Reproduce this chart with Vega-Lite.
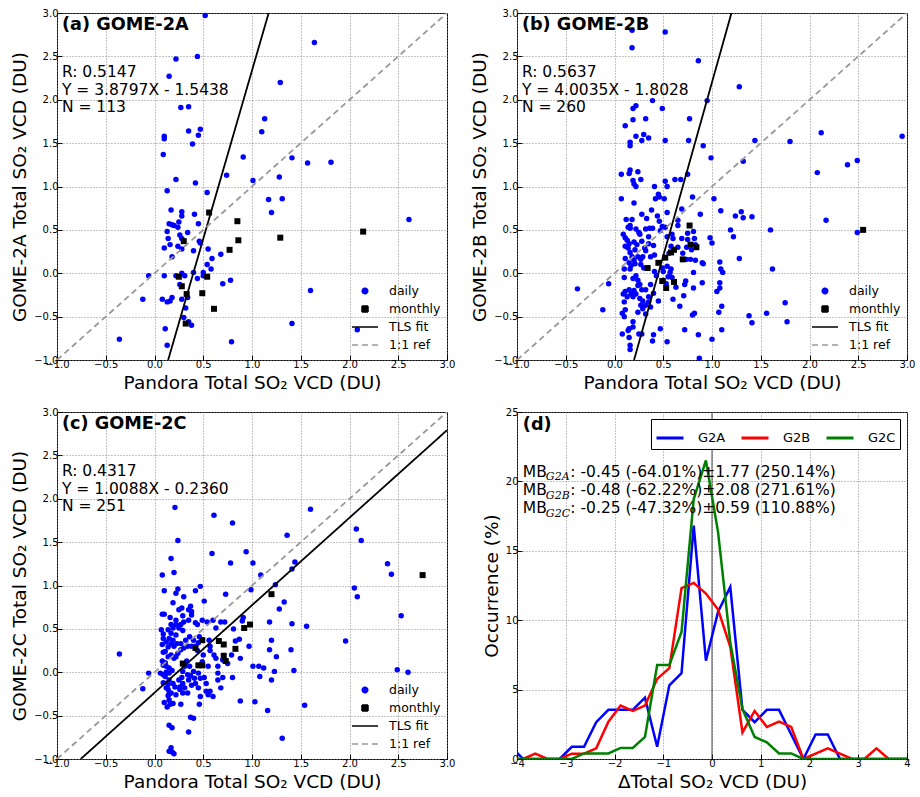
{
"$schema": "https://vega.github.io/schema/vega-lite/v6.json",
"padding": {"left": 10, "top": 7, "right": 5, "bottom": 5},
"config": {
 "font": "DejaVu Sans",
 "view": {"stroke": "black", "strokeWidth": 1},
 "axis": {"labelFont": "DejaVu Sans", "labelFontSize": 10, "labelColor": "black", "titleFont": "DejaVu Sans", "titleFontSize": 18.5, "titleFontWeight": "normal", "titleColor": "black", "domain": false, "grid": true, "gridColor": "#888888", "gridDash": [1, 2], "gridWidth": 1, "tickColor": "black", "tickSize": -5, "labelPadding": 4, "titlePadding": 4, "labelFlush": false, "labelOverlap": false},
 "legend": {"labelFont": "DejaVu Sans", "labelColor": "black"}
},
"datasets": {
 "a": [
{"kind":"daily","x":0.52,"y":2.97},{"kind":"daily","x":1.64,"y":2.66},{"kind":"daily","x":0.22,"y":2.47},{"kind":"daily","x":0.44,"y":2.50},{"kind":"daily","x":0.15,"y":2.27},{"kind":"daily","x":1.29,"y":2.20},{"kind":"daily","x":0.27,"y":1.91},{"kind":"daily","x":0.35,"y":1.92},{"kind":"daily","x":1.13,"y":1.78},{"kind":"daily","x":0.47,"y":1.66},{"kind":"daily","x":0.35,"y":1.64},{"kind":"daily","x":0.45,"y":1.59},{"kind":"daily","x":0.10,"y":1.58},{"kind":"daily","x":0.10,"y":1.55},{"kind":"daily","x":1.10,"y":1.63},{"kind":"daily","x":0.39,"y":1.49},{"kind":"daily","x":0.09,"y":1.37},{"kind":"daily","x":0.91,"y":1.34},{"kind":"daily","x":1.41,"y":1.33},{"kind":"daily","x":1.57,"y":1.27},{"kind":"daily","x":1.81,"y":1.28},{"kind":"daily","x":0.22,"y":1.08},{"kind":"daily","x":0.74,"y":1.13},{"kind":"daily","x":1.01,"y":1.07},{"kind":"daily","x":1.28,"y":1.11},{"kind":"daily","x":0.42,"y":1.04},{"kind":"daily","x":0.13,"y":0.95},{"kind":"daily","x":0.54,"y":0.93},{"kind":"daily","x":1.17,"y":0.85},{"kind":"daily","x":1.31,"y":0.86},{"kind":"daily","x":1.20,"y":0.70},{"kind":"daily","x":2.61,"y":0.62},{"kind":"daily","x":0.17,"y":0.73},{"kind":"daily","x":0.28,"y":0.71},{"kind":"daily","x":0.28,"y":0.66},{"kind":"daily","x":0.41,"y":0.68},{"kind":"daily","x":0.15,"y":0.57},{"kind":"daily","x":0.18,"y":0.56},{"kind":"daily","x":0.20,"y":0.55},{"kind":"daily","x":0.25,"y":0.59},{"kind":"daily","x":0.24,"y":0.53},{"kind":"daily","x":0.45,"y":0.57},{"kind":"daily","x":0.13,"y":0.48},{"kind":"daily","x":0.34,"y":0.47},{"kind":"daily","x":0.26,"y":0.44},{"kind":"daily","x":0.28,"y":0.40},{"kind":"daily","x":0.14,"y":0.40},{"kind":"daily","x":0.16,"y":0.33},{"kind":"daily","x":0.24,"y":0.31},{"kind":"daily","x":0.28,"y":0.28},{"kind":"daily","x":0.10,"y":0.29},{"kind":"daily","x":0.46,"y":0.37},{"kind":"daily","x":0.47,"y":0.35},{"kind":"daily","x":0.40,"y":0.26},{"kind":"daily","x":0.55,"y":0.28},{"kind":"daily","x":0.68,"y":0.22},{"kind":"daily","x":0.59,"y":0.17},{"kind":"daily","x":0.18,"y":0.19},{"kind":"daily","x":0.54,"y":0.10},{"kind":"daily","x":0.58,"y":0.05},{"kind":"daily","x":-0.06,"y":-0.03},{"kind":"daily","x":0.10,"y":-0.03},{"kind":"daily","x":0.22,"y":-0.03},{"kind":"daily","x":0.28,"y":0.00},{"kind":"daily","x":0.31,"y":-0.03},{"kind":"daily","x":0.40,"y":0.01},{"kind":"daily","x":0.50,"y":0.01},{"kind":"daily","x":0.50,"y":-0.03},{"kind":"daily","x":0.44,"y":-0.06},{"kind":"daily","x":0.26,"y":-0.13},{"kind":"daily","x":0.70,"y":-0.12},{"kind":"daily","x":0.78,"y":-0.08},{"kind":"daily","x":-0.12,"y":-0.30},{"kind":"daily","x":0.08,"y":-0.30},{"kind":"daily","x":0.13,"y":-0.33},{"kind":"daily","x":0.16,"y":-0.32},{"kind":"daily","x":0.18,"y":-0.28},{"kind":"daily","x":0.28,"y":-0.30},{"kind":"daily","x":0.34,"y":-0.28},{"kind":"daily","x":0.32,"y":-0.40},{"kind":"daily","x":0.30,"y":-0.51},{"kind":"daily","x":0.35,"y":-0.56},{"kind":"daily","x":0.38,"y":-0.60},{"kind":"daily","x":0.11,"y":-0.64},{"kind":"daily","x":0.13,"y":-0.83},{"kind":"daily","x":-0.36,"y":-0.76},{"kind":"daily","x":0.79,"y":-0.79},{"kind":"daily","x":1.41,"y":-0.58},{"kind":"daily","x":1.60,"y":-0.20},{"kind":"daily","x":2.08,"y":-0.65},
{"kind":"monthly","x":0.56,"y":0.70},{"kind":"monthly","x":0.85,"y":0.60},{"kind":"monthly","x":0.86,"y":0.38},{"kind":"monthly","x":1.29,"y":0.41},{"kind":"monthly","x":2.14,"y":0.48},{"kind":"monthly","x":0.30,"y":0.37},{"kind":"monthly","x":0.77,"y":0.27},{"kind":"monthly","x":0.25,"y":-0.04},{"kind":"monthly","x":0.54,"y":-0.04},{"kind":"monthly","x":0.28,"y":-0.15},{"kind":"monthly","x":0.33,"y":-0.24},{"kind":"monthly","x":0.49,"y":-0.23},{"kind":"monthly","x":0.61,"y":-0.41},{"kind":"monthly","x":0.32,"y":-0.58},
{"kind":"TLS fit","x":0.140,"y":-1},{"kind":"TLS fit","x":1.171,"y":3},
{"kind":"1:1 ref","x":-1,"y":-1},{"kind":"1:1 ref","x":3,"y":3}
 ],
 "b": [
{"kind":"daily","x":0.99,"y":1.33},{"kind":"daily","x":1.32,"y":1.29},{"kind":"daily","x":0.07,"y":1.14},{"kind":"daily","x":0.16,"y":1.19},{"kind":"daily","x":0.15,"y":1.15},{"kind":"daily","x":0.24,"y":1.17},{"kind":"daily","x":0.19,"y":1.07},{"kind":"daily","x":0.22,"y":1.00},{"kind":"daily","x":0.20,"y":1.03},{"kind":"daily","x":0.27,"y":1.08},{"kind":"daily","x":0.62,"y":1.08},{"kind":"daily","x":0.68,"y":1.08},{"kind":"daily","x":0.52,"y":1.06},{"kind":"daily","x":0.54,"y":1.00},{"kind":"daily","x":0.41,"y":1.00},{"kind":"daily","x":0.75,"y":1.14},{"kind":"daily","x":0.45,"y":0.91},{"kind":"daily","x":0.42,"y":0.86},{"kind":"daily","x":0.46,"y":0.88},{"kind":"daily","x":0.51,"y":0.86},{"kind":"daily","x":0.07,"y":0.86},{"kind":"daily","x":0.20,"y":0.81},{"kind":"daily","x":0.80,"y":0.88},{"kind":"daily","x":1.02,"y":0.86},{"kind":"daily","x":0.69,"y":0.74},{"kind":"daily","x":1.09,"y":0.72},{"kind":"daily","x":1.30,"y":0.71},{"kind":"daily","x":1.32,"y":0.64},{"kind":"daily","x":1.24,"y":0.66},{"kind":"daily","x":1.19,"y":0.50},{"kind":"daily","x":1.22,"y":0.42},{"kind":"daily","x":1.28,"y":0.17},{"kind":"daily","x":0.88,"y":0.68},{"kind":"daily","x":0.38,"y":0.73},{"kind":"daily","x":0.28,"y":0.68},{"kind":"daily","x":0.33,"y":0.63},{"kind":"daily","x":0.12,"y":0.62},{"kind":"daily","x":0.18,"y":0.62},{"kind":"daily","x":0.16,"y":0.55},{"kind":"daily","x":0.14,"y":0.53},{"kind":"daily","x":0.16,"y":0.52},{"kind":"daily","x":0.25,"y":0.47},{"kind":"daily","x":0.26,"y":0.45},{"kind":"daily","x":0.46,"y":0.60},{"kind":"daily","x":0.54,"y":0.70},{"kind":"daily","x":0.65,"y":0.61},{"kind":"daily","x":0.65,"y":0.55},{"kind":"daily","x":0.49,"y":0.54},{"kind":"daily","x":0.52,"y":0.53},{"kind":"daily","x":0.47,"y":0.49},{"kind":"daily","x":0.39,"y":0.52},{"kind":"daily","x":0.09,"y":0.45},{"kind":"daily","x":0.11,"y":0.41},{"kind":"daily","x":0.13,"y":0.38},{"kind":"daily","x":0.15,"y":0.34},{"kind":"daily","x":0.20,"y":0.36},{"kind":"daily","x":0.23,"y":0.33},{"kind":"daily","x":0.28,"y":0.37},{"kind":"daily","x":0.35,"y":0.42},{"kind":"daily","x":0.35,"y":0.34},{"kind":"daily","x":0.40,"y":0.32},{"kind":"daily","x":0.32,"y":0.26},{"kind":"daily","x":0.31,"y":0.29},{"kind":"daily","x":0.29,"y":0.19},{"kind":"daily","x":0.24,"y":0.19},{"kind":"daily","x":0.18,"y":0.19},{"kind":"daily","x":0.20,"y":0.15},{"kind":"daily","x":0.27,"y":0.16},{"kind":"daily","x":0.15,"y":0.12},{"kind":"daily","x":0.11,"y":0.17},{"kind":"daily","x":0.10,"y":0.05},{"kind":"daily","x":0.16,"y":0.05},{"kind":"daily","x":0.21,"y":0.11},{"kind":"daily","x":0.37,"y":0.19},{"kind":"daily","x":0.41,"y":0.21},{"kind":"daily","x":0.60,"y":0.40},{"kind":"daily","x":0.58,"y":0.31},{"kind":"daily","x":0.56,"y":0.23},{"kind":"daily","x":0.65,"y":0.30},{"kind":"daily","x":0.74,"y":0.30},{"kind":"daily","x":0.79,"y":0.27},{"kind":"daily","x":0.81,"y":0.48},{"kind":"daily","x":0.82,"y":0.40},{"kind":"daily","x":0.83,"y":0.33},{"kind":"daily","x":0.74,"y":0.16},{"kind":"daily","x":0.78,"y":0.16},{"kind":"daily","x":0.83,"y":0.15},{"kind":"daily","x":0.90,"y":0.12},{"kind":"daily","x":0.70,"y":0.23},{"kind":"daily","x":0.54,"y":0.08},{"kind":"daily","x":0.58,"y":0.05},{"kind":"daily","x":0.57,"y":0.01},{"kind":"daily","x":0.59,"y":-0.05},{"kind":"daily","x":0.50,"y":0.02},{"kind":"daily","x":0.50,"y":-0.08},{"kind":"daily","x":0.43,"y":-0.03},{"kind":"daily","x":0.41,"y":0.02},{"kind":"daily","x":0.22,"y":-0.03},{"kind":"daily","x":0.24,"y":-0.08},{"kind":"daily","x":0.26,"y":-0.13},{"kind":"daily","x":0.24,"y":-0.14},{"kind":"daily","x":0.37,"y":-0.13},{"kind":"daily","x":0.32,"y":-0.19},{"kind":"daily","x":0.28,"y":-0.19},{"kind":"daily","x":0.20,"y":-0.20},{"kind":"daily","x":0.15,"y":-0.19},{"kind":"daily","x":0.11,"y":-0.21},{"kind":"daily","x":0.09,"y":-0.24},{"kind":"daily","x":0.19,"y":-0.27},{"kind":"daily","x":0.17,"y":-0.24},{"kind":"daily","x":0.22,"y":-0.24},{"kind":"daily","x":0.26,"y":-0.29},{"kind":"daily","x":0.29,"y":-0.32},{"kind":"daily","x":0.35,"y":-0.27},{"kind":"daily","x":0.40,"y":-0.23},{"kind":"daily","x":0.45,"y":-0.32},{"kind":"daily","x":0.55,"y":-0.04},{"kind":"daily","x":0.73,"y":-0.09},{"kind":"daily","x":0.72,"y":-0.13},{"kind":"daily","x":0.90,"y":-0.11},{"kind":"daily","x":0.81,"y":-0.17},{"kind":"daily","x":0.67,"y":-0.38},{"kind":"daily","x":0.71,"y":-0.26},{"kind":"daily","x":1.05,"y":-0.21},{"kind":"daily","x":1.10,"y":-0.38},{"kind":"daily","x":1.07,"y":-0.45},{"kind":"daily","x":1.10,"y":-0.65},{"kind":"daily","x":1.00,"y":-0.76},{"kind":"daily","x":0.80,"y":-0.48},{"kind":"daily","x":0.82,"y":-0.46},{"kind":"daily","x":0.86,"y":-0.71},{"kind":"daily","x":0.87,"y":-0.98},{"kind":"daily","x":0.72,"y":-0.65},{"kind":"daily","x":0.54,"y":-0.79},{"kind":"daily","x":0.47,"y":-0.64},{"kind":"daily","x":0.40,"y":-0.71},{"kind":"daily","x":0.39,"y":-0.78},{"kind":"daily","x":0.28,"y":-0.70},{"kind":"daily","x":0.25,"y":-0.70},{"kind":"daily","x":0.19,"y":-0.62},{"kind":"daily","x":0.19,"y":-0.56},{"kind":"daily","x":0.15,"y":-0.64},{"kind":"daily","x":0.15,"y":-0.74},{"kind":"daily","x":0.08,"y":-0.70},{"kind":"daily","x":0.16,"y":-0.83},{"kind":"daily","x":0.16,"y":-0.88},{"kind":"daily","x":0.14,"y":-0.66},{"kind":"daily","x":0.08,"y":-0.46},{"kind":"daily","x":0.10,"y":-0.50},{"kind":"daily","x":0.11,"y":-0.42},{"kind":"daily","x":0.24,"y":-0.45},{"kind":"daily","x":0.29,"y":-0.41},{"kind":"daily","x":0.32,"y":-0.37},{"kind":"daily","x":0.35,"y":-0.33},{"kind":"daily","x":0.37,"y":-0.39},{"kind":"daily","x":0.27,"y":-0.37},{"kind":"daily","x":0.32,"y":-0.47},{"kind":"daily","x":0.13,"y":-0.27},{"kind":"daily","x":0.10,"y":-0.33},{"kind":"daily","x":-0.06,"y":-0.12},{"kind":"daily","x":-0.12,"y":-0.42},{"kind":"daily","x":0.19,"y":-0.06},{"kind":"daily","x":0.17,"y":0.09},{"kind":"daily","x":0.10,"y":-0.05},{"kind":"daily","x":0.21,"y":0.27},{"kind":"daily","x":0.27,"y":0.10},{"kind":"daily","x":0.30,"y":0.06},{"kind":"daily","x":0.16,"y":0.24},{"kind":"daily","x":0.14,"y":0.29},{"kind":"daily","x":0.11,"y":0.31},{"kind":"daily","x":0.22,"y":0.51},{"kind":"daily","x":0.32,"y":0.51},{"kind":"daily","x":0.36,"y":0.52},{"kind":"daily","x":0.44,"y":0.66},{"kind":"daily","x":0.59,"y":0.45},{"kind":"daily","x":0.54,"y":0.42},{"kind":"daily","x":0.69,"y":0.40},{"kind":"daily","x":0.75,"y":0.46},{"kind":"daily","x":0.75,"y":0.39},{"kind":"daily","x":0.49,"y":0.06},{"kind":"daily","x":0.53,"y":-0.12},{"kind":"daily","x":0.63,"y":-0.16},{"kind":"daily","x":0.60,"y":-0.30},{"kind":"daily","x":0.81,"y":0.01},{"kind":"daily","x":1.08,"y":-0.11},{"kind":"daily","x":1.08,"y":-0.17},{"kind":"daily","x":0.98,"y":0.41},{"kind":"daily","x":1.00,"y":0.35},{"kind":"daily","x":1.11,"y":0.01},{"kind":"daily","x":1.09,"y":0.05},{"kind":"daily","x":1.08,"y":0.13},{"kind":"daily","x":0.91,"y":0.11},
{"kind":"daily","x":0.18,"y":2.80},{"kind":"daily","x":0.52,"y":2.78},{"kind":"daily","x":0.18,"y":2.60},{"kind":"daily","x":0.86,"y":2.45},{"kind":"daily","x":1.28,"y":2.15},{"kind":"daily","x":0.95,"y":1.99},{"kind":"daily","x":0.39,"y":1.99},{"kind":"daily","x":0.19,"y":1.90},{"kind":"daily","x":0.22,"y":1.93},{"kind":"daily","x":0.49,"y":1.90},{"kind":"daily","x":0.32,"y":1.78},{"kind":"daily","x":0.19,"y":1.77},{"kind":"daily","x":0.77,"y":1.78},{"kind":"daily","x":0.11,"y":1.70},{"kind":"daily","x":0.22,"y":1.58},{"kind":"daily","x":0.30,"y":1.60},{"kind":"daily","x":0.35,"y":1.56},{"kind":"daily","x":0.28,"y":1.53},{"kind":"daily","x":0.52,"y":1.53},{"kind":"daily","x":0.76,"y":1.53},{"kind":"daily","x":0.16,"y":1.51},{"kind":"daily","x":0.16,"y":1.47},{"kind":"daily","x":0.91,"y":1.47},{"kind":"daily","x":1.44,"y":1.53},{"kind":"daily","x":1.80,"y":1.52},{"kind":"daily","x":2.12,"y":1.62},{"kind":"daily","x":2.95,"y":1.58},{"kind":"daily","x":2.39,"y":1.25},{"kind":"daily","x":2.49,"y":1.30},{"kind":"daily","x":2.08,"y":1.16},{"kind":"daily","x":2.17,"y":0.61},{"kind":"daily","x":1.60,"y":0.50},{"kind":"daily","x":2.49,"y":0.47},{"kind":"daily","x":1.62,"y":0.05},{"kind":"daily","x":1.75,"y":-0.34},{"kind":"daily","x":1.77,"y":-0.56},{"kind":"daily","x":1.56,"y":-0.46},{"kind":"daily","x":1.38,"y":-0.49},{"kind":"daily","x":1.41,"y":-0.57},{"kind":"daily","x":-0.38,"y":-0.18},{"kind":"daily","x":1.41,"y":0.65},
{"kind":"monthly","x":0.77,"y":0.55},{"kind":"monthly","x":0.78,"y":0.33},{"kind":"monthly","x":0.84,"y":0.30},{"kind":"monthly","x":0.61,"y":0.27},{"kind":"monthly","x":0.58,"y":0.24},{"kind":"monthly","x":0.52,"y":0.18},{"kind":"monthly","x":0.45,"y":0.12},{"kind":"monthly","x":0.70,"y":0.16},{"kind":"monthly","x":0.34,"y":0.06},{"kind":"monthly","x":0.49,"y":-0.09},{"kind":"monthly","x":0.53,"y":-0.17},{"kind":"monthly","x":0.61,"y":-0.10},{"kind":"monthly","x":2.55,"y":0.50},
{"kind":"TLS fit","x":0.2005,"y":-1},{"kind":"TLS fit","x":1.1996,"y":3},
{"kind":"1:1 ref","x":-1,"y":-1},{"kind":"1:1 ref","x":3,"y":3}
 ],
 "c": [
{"kind":"daily","x":0.21,"y":1.90},{"kind":"daily","x":0.61,"y":1.81},{"kind":"daily","x":0.80,"y":1.72},{"kind":"daily","x":1.60,"y":1.88},{"kind":"daily","x":1.36,"y":1.58},{"kind":"daily","x":0.24,"y":1.52},{"kind":"daily","x":0.94,"y":1.39},{"kind":"daily","x":0.59,"y":1.37},{"kind":"daily","x":0.17,"y":1.31},{"kind":"daily","x":0.78,"y":1.26},{"kind":"daily","x":1.01,"y":1.26},{"kind":"daily","x":1.44,"y":1.27},{"kind":"daily","x":1.41,"y":1.19},{"kind":"daily","x":2.07,"y":1.65},{"kind":"daily","x":2.12,"y":1.52},{"kind":"daily","x":2.39,"y":1.25},{"kind":"daily","x":2.43,"y":1.13},{"kind":"daily","x":0.08,"y":1.12},{"kind":"daily","x":1.09,"y":1.12},{"kind":"daily","x":0.20,"y":1.15},{"kind":"daily","x":1.33,"y":0.81},{"kind":"daily","x":1.24,"y":1.01},{"kind":"daily","x":1.28,"y":0.73},{"kind":"daily","x":2.05,"y":0.97},{"kind":"daily","x":2.08,"y":0.87},{"kind":"daily","x":2.53,"y":0.65},{"kind":"daily","x":1.41,"y":0.56},{"kind":"daily","x":1.56,"y":0.53},{"kind":"daily","x":1.96,"y":0.36},{"kind":"daily","x":2.49,"y":0.03},{"kind":"daily","x":2.60,"y":0.00},{"kind":"daily","x":1.43,"y":0.02},{"kind":"daily","x":1.40,"y":0.26},{"kind":"daily","x":1.54,"y":-0.38},{"kind":"daily","x":1.31,"y":-0.76},{"kind":"daily","x":1.16,"y":-0.44},{"kind":"daily","x":-0.36,"y":0.21},{"kind":"daily","x":-0.12,"y":-0.19},{"kind":"daily","x":-0.06,"y":-0.01},{"kind":"daily","x":1.03,"y":-0.34},{"kind":"daily","x":0.88,"y":-0.33},{"kind":"daily","x":0.35,"y":-0.69},{"kind":"daily","x":0.18,"y":-0.92},{"kind":"daily","x":0.15,"y":-0.91},{"kind":"daily","x":0.17,"y":-0.87},{"kind":"daily","x":0.20,"y":-0.94},{"kind":"daily","x":0.15,"y":-0.61},{"kind":"daily","x":0.18,"y":-0.64},{"kind":"daily","x":0.37,"y":-0.52},{"kind":"daily","x":0.40,"y":-0.53},
{"kind":"daily","x":0.10,"y":0.94},{"kind":"daily","x":0.22,"y":0.91},{"kind":"daily","x":0.24,"y":0.96},{"kind":"daily","x":0.19,"y":0.80},{"kind":"daily","x":0.30,"y":0.87},{"kind":"daily","x":0.42,"y":0.94},{"kind":"daily","x":0.47,"y":0.99},{"kind":"daily","x":0.51,"y":0.82},{"kind":"daily","x":0.73,"y":0.90},{"kind":"daily","x":0.99,"y":0.95},{"kind":"daily","x":0.10,"y":0.67},{"kind":"daily","x":0.08,"y":0.67},{"kind":"daily","x":0.16,"y":0.63},{"kind":"daily","x":0.25,"y":0.72},{"kind":"daily","x":0.28,"y":0.74},{"kind":"daily","x":0.35,"y":0.72},{"kind":"daily","x":0.37,"y":0.76},{"kind":"daily","x":0.38,"y":0.70},{"kind":"daily","x":0.38,"y":0.66},{"kind":"daily","x":0.30,"y":0.58},{"kind":"daily","x":0.42,"y":0.57},{"kind":"daily","x":0.44,"y":0.55},{"kind":"daily","x":0.49,"y":0.60},{"kind":"daily","x":0.54,"y":0.58},{"kind":"daily","x":0.60,"y":0.60},{"kind":"daily","x":0.63,"y":0.51},{"kind":"daily","x":0.68,"y":0.58},{"kind":"daily","x":0.72,"y":0.58},{"kind":"daily","x":0.81,"y":0.50},{"kind":"daily","x":0.83,"y":0.36},{"kind":"daily","x":0.88,"y":0.16},{"kind":"daily","x":0.91,"y":0.63},{"kind":"daily","x":0.90,"y":0.59},{"kind":"daily","x":0.97,"y":0.30},{"kind":"daily","x":0.87,"y":0.38},{"kind":"daily","x":1.01,"y":0.07},{"kind":"daily","x":1.07,"y":0.07},{"kind":"daily","x":1.12,"y":0.05},{"kind":"daily","x":1.18,"y":0.58},{"kind":"daily","x":1.20,"y":0.37},{"kind":"daily","x":1.18,"y":0.26},{"kind":"daily","x":1.25,"y":0.18},{"kind":"daily","x":1.23,"y":0.01},{"kind":"daily","x":1.08,"y":-0.05},{"kind":"daily","x":1.20,"y":-0.09},{"kind":"daily","x":0.80,"y":-0.06},{"kind":"daily","x":0.70,"y":-0.06},{"kind":"daily","x":0.68,"y":-0.18},{"kind":"daily","x":0.65,"y":-0.09},{"kind":"daily","x":0.65,"y":-0.01},{"kind":"daily","x":0.65,"y":0.07},{"kind":"daily","x":0.70,"y":0.14},{"kind":"daily","x":0.75,"y":0.10},{"kind":"daily","x":0.79,"y":0.20},{"kind":"daily","x":0.63,"y":0.16},{"kind":"daily","x":0.61,"y":0.20},{"kind":"daily","x":0.57,"y":0.25},{"kind":"daily","x":0.57,"y":0.30},{"kind":"daily","x":0.56,"y":0.37},{"kind":"daily","x":0.50,"y":0.20},{"kind":"daily","x":0.49,"y":0.12},{"kind":"daily","x":0.55,"y":0.07},{"kind":"daily","x":0.51,"y":-0.06},{"kind":"daily","x":0.53,"y":-0.13},{"kind":"daily","x":0.53,"y":-0.22},{"kind":"daily","x":0.55,"y":-0.26},{"kind":"daily","x":0.60,"y":-0.28},{"kind":"daily","x":0.47,"y":-0.28},{"kind":"daily","x":0.57,"y":-0.22},{"kind":"daily","x":0.47,"y":-0.07},{"kind":"daily","x":0.45,"y":-0.01},{"kind":"daily","x":0.40,"y":0.01},{"kind":"daily","x":0.36,"y":0.07},{"kind":"daily","x":0.33,"y":0.13},{"kind":"daily","x":0.31,"y":0.07},{"kind":"daily","x":0.29,"y":0.01},{"kind":"daily","x":0.34,"y":-0.03},{"kind":"daily","x":0.35,"y":-0.09},{"kind":"daily","x":0.38,"y":-0.15},{"kind":"daily","x":0.42,"y":-0.13},{"kind":"daily","x":0.41,"y":-0.07},{"kind":"daily","x":0.28,"y":-0.06},{"kind":"daily","x":0.25,"y":-0.09},{"kind":"daily","x":0.29,"y":-0.13},{"kind":"daily","x":0.26,"y":-0.17},{"kind":"daily","x":0.21,"y":-0.17},{"kind":"daily","x":0.19,"y":-0.13},{"kind":"daily","x":0.15,"y":-0.09},{"kind":"daily","x":0.14,"y":-0.14},{"kind":"daily","x":0.14,"y":-0.20},{"kind":"daily","x":0.15,"y":-0.25},{"kind":"daily","x":0.14,"y":-0.27},{"kind":"daily","x":0.12,"y":-0.18},{"kind":"daily","x":0.09,"y":-0.12},{"kind":"daily","x":0.11,"y":-0.05},{"kind":"daily","x":0.12,"y":0.00},{"kind":"daily","x":0.15,"y":-0.01},{"kind":"daily","x":0.18,"y":0.02},{"kind":"daily","x":0.15,"y":0.05},{"kind":"daily","x":0.12,"y":0.07},{"kind":"daily","x":0.09,"y":0.08},{"kind":"daily","x":0.08,"y":0.13},{"kind":"daily","x":0.11,"y":0.11},{"kind":"daily","x":0.14,"y":0.18},{"kind":"daily","x":0.17,"y":0.20},{"kind":"daily","x":0.20,"y":0.16},{"kind":"daily","x":0.22,"y":0.18},{"kind":"daily","x":0.24,"y":0.22},{"kind":"daily","x":0.27,"y":0.26},{"kind":"daily","x":0.30,"y":0.28},{"kind":"daily","x":0.34,"y":0.30},{"kind":"daily","x":0.38,"y":0.30},{"kind":"daily","x":0.42,"y":0.30},{"kind":"daily","x":0.44,"y":0.25},{"kind":"daily","x":0.45,"y":0.34},{"kind":"daily","x":0.46,"y":0.41},{"kind":"daily","x":0.40,"y":0.37},{"kind":"daily","x":0.36,"y":0.41},{"kind":"daily","x":0.32,"y":0.37},{"kind":"daily","x":0.27,"y":0.33},{"kind":"daily","x":0.23,"y":0.33},{"kind":"daily","x":0.20,"y":0.30},{"kind":"daily","x":0.17,"y":0.33},{"kind":"daily","x":0.14,"y":0.29},{"kind":"daily","x":0.11,"y":0.24},{"kind":"daily","x":0.09,"y":0.23},{"kind":"daily","x":0.12,"y":0.35},{"kind":"daily","x":0.15,"y":0.39},{"kind":"daily","x":0.19,"y":0.37},{"kind":"daily","x":0.22,"y":0.43},{"kind":"daily","x":0.17,"y":0.45},{"kind":"daily","x":0.14,"y":0.49},{"kind":"daily","x":0.19,"y":0.51},{"kind":"daily","x":0.22,"y":0.55},{"kind":"daily","x":0.25,"y":0.51},{"kind":"daily","x":0.29,"y":0.48},{"kind":"daily","x":0.27,"y":0.55},{"kind":"daily","x":0.09,"y":0.44},{"kind":"daily","x":0.09,"y":0.39},{"kind":"daily","x":0.29,"y":0.65},{"kind":"daily","x":0.35,"y":0.60},{"kind":"daily","x":0.17,"y":0.55},{"kind":"daily","x":0.22,"y":0.60},{"kind":"daily","x":0.08,"y":0.32},{"kind":"daily","x":0.07,"y":0.49},{"kind":"daily","x":0.09,"y":-0.03},{"kind":"daily","x":0.06,"y":-0.01},{"kind":"daily","x":0.17,"y":-0.24},{"kind":"daily","x":0.22,"y":-0.26},{"kind":"daily","x":0.26,"y":-0.20},{"kind":"daily","x":0.31,"y":-0.18},{"kind":"daily","x":0.29,"y":-0.24},{"kind":"daily","x":0.34,"y":-0.24},{"kind":"daily","x":0.37,"y":-0.04},{"kind":"daily","x":0.45,"y":-0.18},{"kind":"daily","x":0.15,"y":-0.32},{"kind":"daily","x":0.19,"y":-0.36},{"kind":"daily","x":0.16,"y":-0.37},{"kind":"daily","x":0.27,"y":-0.37},{"kind":"daily","x":0.10,"y":-0.35},{"kind":"daily","x":0.13,"y":-0.40},{"kind":"daily","x":0.46,"y":-0.37},
{"kind":"monthly","x":1.20,"y":0.90},{"kind":"monthly","x":0.98,"y":0.55},{"kind":"monthly","x":0.92,"y":0.51},{"kind":"monthly","x":0.66,"y":0.36},{"kind":"monthly","x":0.71,"y":0.32},{"kind":"monthly","x":0.49,"y":0.37},{"kind":"monthly","x":0.42,"y":0.28},{"kind":"monthly","x":0.83,"y":0.27},{"kind":"monthly","x":0.71,"y":0.19},{"kind":"monthly","x":0.73,"y":0.13},{"kind":"monthly","x":0.29,"y":0.10},{"kind":"monthly","x":0.45,"y":0.08},{"kind":"monthly","x":0.49,"y":0.08},{"kind":"monthly","x":2.75,"y":1.12},
{"kind":"TLS fit","x":-0.757,"y":-1},{"kind":"TLS fit","x":3,"y":2.790},
{"kind":"1:1 ref","x":-1,"y":-1},{"kind":"1:1 ref","x":3,"y":3}
 ],
 "d": [
{"series":"G2A","x":-4.125,"y":0.88},{"series":"G2A","x":-3.875,"y":0},{"series":"G2A","x":-3.625,"y":0},{"series":"G2A","x":-3.375,"y":0},{"series":"G2A","x":-3.125,"y":0},{"series":"G2A","x":-2.875,"y":0.88},{"series":"G2A","x":-2.625,"y":0.88},{"series":"G2A","x":-2.375,"y":2.65},{"series":"G2A","x":-2.125,"y":3.54},{"series":"G2A","x":-1.875,"y":3.54},{"series":"G2A","x":-1.625,"y":3.54},{"series":"G2A","x":-1.375,"y":4.42},{"series":"G2A","x":-1.125,"y":0.88},{"series":"G2A","x":-0.875,"y":5.31},{"series":"G2A","x":-0.625,"y":6.19},{"series":"G2A","x":-0.375,"y":16.81},{"series":"G2A","x":-0.125,"y":7.08},{"series":"G2A","x":0.125,"y":10.62},{"series":"G2A","x":0.375,"y":12.39},{"series":"G2A","x":0.625,"y":3.54},{"series":"G2A","x":0.875,"y":2.65},{"series":"G2A","x":1.125,"y":3.54},{"series":"G2A","x":1.375,"y":3.54},{"series":"G2A","x":1.625,"y":1.77},{"series":"G2A","x":1.875,"y":0},{"series":"G2A","x":2.125,"y":1.77},{"series":"G2A","x":2.375,"y":1.77},{"series":"G2A","x":2.625,"y":0},{"series":"G2A","x":2.875,"y":0},{"series":"G2A","x":3.125,"y":0},{"series":"G2A","x":3.375,"y":0},{"series":"G2A","x":3.625,"y":0},{"series":"G2A","x":3.875,"y":0},{"series":"G2A","x":4.125,"y":0},
{"series":"G2B","x":-4.125,"y":0},{"series":"G2B","x":-3.875,"y":0},{"series":"G2B","x":-3.625,"y":0.38},{"series":"G2B","x":-3.375,"y":0},{"series":"G2B","x":-3.125,"y":0},{"series":"G2B","x":-2.875,"y":0.38},{"series":"G2B","x":-2.625,"y":0.38},{"series":"G2B","x":-2.375,"y":0.77},{"series":"G2B","x":-2.125,"y":2.69},{"series":"G2B","x":-1.875,"y":3.85},{"series":"G2B","x":-1.625,"y":3.46},{"series":"G2B","x":-1.375,"y":3.85},{"series":"G2B","x":-1.125,"y":5.77},{"series":"G2B","x":-0.875,"y":6.54},{"series":"G2B","x":-0.625,"y":12.31},{"series":"G2B","x":-0.375,"y":12.69},{"series":"G2B","x":-0.125,"y":11.92},{"series":"G2B","x":0.125,"y":10.77},{"series":"G2B","x":0.375,"y":8.08},{"series":"G2B","x":0.625,"y":1.92},{"series":"G2B","x":0.875,"y":3.46},{"series":"G2B","x":1.125,"y":2.31},{"series":"G2B","x":1.375,"y":2.69},{"series":"G2B","x":1.625,"y":2.31},{"series":"G2B","x":1.875,"y":0},{"series":"G2B","x":2.125,"y":0.38},{"series":"G2B","x":2.375,"y":0.77},{"series":"G2B","x":2.625,"y":0.38},{"series":"G2B","x":2.875,"y":0},{"series":"G2B","x":3.125,"y":0},{"series":"G2B","x":3.375,"y":0.77},{"series":"G2B","x":3.625,"y":0},{"series":"G2B","x":3.875,"y":0},{"series":"G2B","x":4.125,"y":0},
{"series":"G2C","x":-4.125,"y":0},{"series":"G2C","x":-3.875,"y":0},{"series":"G2C","x":-3.625,"y":0},{"series":"G2C","x":-3.375,"y":0},{"series":"G2C","x":-3.125,"y":0},{"series":"G2C","x":-2.875,"y":0},{"series":"G2C","x":-2.625,"y":0.40},{"series":"G2C","x":-2.375,"y":0.40},{"series":"G2C","x":-2.125,"y":0.40},{"series":"G2C","x":-1.875,"y":0.80},{"series":"G2C","x":-1.625,"y":0.80},{"series":"G2C","x":-1.375,"y":1.59},{"series":"G2C","x":-1.125,"y":6.77},{"series":"G2C","x":-0.875,"y":6.77},{"series":"G2C","x":-0.625,"y":9.16},{"series":"G2C","x":-0.375,"y":18.73},{"series":"G2C","x":-0.125,"y":21.51},{"series":"G2C","x":0.125,"y":16.33},{"series":"G2C","x":0.375,"y":8.37},{"series":"G2C","x":0.625,"y":3.59},{"series":"G2C","x":0.875,"y":1.59},{"series":"G2C","x":1.125,"y":1.20},{"series":"G2C","x":1.375,"y":0.40},{"series":"G2C","x":1.625,"y":0.40},{"series":"G2C","x":1.875,"y":0},{"series":"G2C","x":2.125,"y":0},{"series":"G2C","x":2.375,"y":0},{"series":"G2C","x":2.625,"y":0},{"series":"G2C","x":2.875,"y":0},{"series":"G2C","x":3.125,"y":0},{"series":"G2C","x":3.375,"y":0},{"series":"G2C","x":3.625,"y":0},{"series":"G2C","x":3.875,"y":0},{"series":"G2C","x":4.125,"y":0}
 ]
},
"concat": [
 {
  "width": 390, "height": 347,
  "data": {"name": "a"},
  "encoding": {
   "x": {"field": "x", "type": "quantitative", "scale": {"domain": [-1, 3], "nice": false, "zero": false}, "axis": {"title": "Pandora Total SO₂ VCD (DU)", "values": [-1, -0.5, 0, 0.5, 1, 1.5, 2, 2.5, 3], "format": ".1f"}},
   "y": {"field": "y", "type": "quantitative", "scale": {"domain": [-1, 3], "nice": false, "zero": false}, "axis": {"title": "GOME-2A Total SO₂ VCD (DU)", "values": [-1, -0.5, 0, 0.5, 1, 1.5, 2, 2.5, 3], "format": ".1f"}}
  },
  "layer": [
   {"transform": [{"filter": "datum.kind === 'daily' || datum.kind === 'monthly'"}], "mark": {"type": "point", "filled": true, "opacity": 1, "strokeWidth": 0},
    "encoding": {
     "color": {"field": "kind", "type": "nominal", "scale": {"domain": ["daily", "monthly", "TLS fit", "1:1 ref"], "range": ["#0000ff", "#000000", "#000000", "#999999"]}, "legend": {"title": null, "orient": "bottom-right", "offset": 6, "padding": 0, "clipHeight": 18, "rowPadding": 0, "labelOffset": 10, "labelFontSize": 12.5, "symbolStrokeWidth": 1.5}},
     "shape": {"field": "kind", "type": "nominal", "scale": {"domain": ["daily", "monthly", "TLS fit", "1:1 ref"], "range": ["circle", "square", "stroke", "stroke"]}, "legend": {"title": null}},
     "size": {"field": "kind", "type": "nominal", "scale": {"type": "ordinal", "domain": ["daily", "monthly", "TLS fit", "1:1 ref"], "range": [30, 36, 676, 676]}, "legend": {"title": null}}}},
   {"transform": [{"filter": "datum.kind === 'TLS fit' || datum.kind === '1:1 ref'"}], "mark": {"type": "line", "strokeWidth": 1.8, "clip": true},
    "encoding": {
     "color": {"field": "kind", "type": "nominal"},
     "strokeDash": {"field": "kind", "type": "nominal", "scale": {"domain": ["daily", "monthly", "TLS fit", "1:1 ref"], "range": [[1, 0], [1, 0], [1, 0], [6, 4]]}, "legend": {"title": null}}}},
   {"data": {"values": [{"x": -0.95, "y": 2.80, "label": "(a) GOME-2A"}]}, "mark": {"type": "text", "align": "left", "baseline": "alphabetic", "fontSize": 17.7, "fontWeight": "bold", "color": "black"}, "encoding": {"text": {"field": "label"}}},
   {"data": {"values": [{"x": -0.95, "y": 2.265, "label": "R: 0.5147"}, {"x": -0.95, "y": 2.06, "label": "Y = 3.8797X - 1.5438"}, {"x": -0.95, "y": 1.855, "label": "N = 113"}]}, "mark": {"type": "text", "align": "left", "baseline": "alphabetic", "fontSize": 15.5, "color": "black"}, "encoding": {"text": {"field": "label"}}}
  ]
 },
 {
  "width": 390, "height": 347,
  "data": {"name": "b"},
  "encoding": {
   "x": {"field": "x", "type": "quantitative", "scale": {"domain": [-1, 3], "nice": false, "zero": false}, "axis": {"title": "Pandora Total SO₂ VCD (DU)", "values": [-1, -0.5, 0, 0.5, 1, 1.5, 2, 2.5, 3], "format": ".1f"}},
   "y": {"field": "y", "type": "quantitative", "scale": {"domain": [-1, 3], "nice": false, "zero": false}, "axis": {"title": "GOME-2B Total SO₂ VCD (DU)", "values": [-1, -0.5, 0, 0.5, 1, 1.5, 2, 2.5, 3], "format": ".1f"}}
  },
  "layer": [
   {"transform": [{"filter": "datum.kind === 'daily' || datum.kind === 'monthly'"}], "mark": {"type": "point", "filled": true, "opacity": 1, "strokeWidth": 0},
    "encoding": {
     "color": {"field": "kind", "type": "nominal", "scale": {"domain": ["daily", "monthly", "TLS fit", "1:1 ref"], "range": ["#0000ff", "#000000", "#000000", "#999999"]}, "legend": {"title": null, "orient": "bottom-right", "offset": 6, "padding": 0, "clipHeight": 18, "rowPadding": 0, "labelOffset": 10, "labelFontSize": 12.5, "symbolStrokeWidth": 1.5}},
     "shape": {"field": "kind", "type": "nominal", "scale": {"domain": ["daily", "monthly", "TLS fit", "1:1 ref"], "range": ["circle", "square", "stroke", "stroke"]}, "legend": {"title": null}},
     "size": {"field": "kind", "type": "nominal", "scale": {"type": "ordinal", "domain": ["daily", "monthly", "TLS fit", "1:1 ref"], "range": [30, 36, 676, 676]}, "legend": {"title": null}}}},
   {"transform": [{"filter": "datum.kind === 'TLS fit' || datum.kind === '1:1 ref'"}], "mark": {"type": "line", "strokeWidth": 1.8, "clip": true},
    "encoding": {
     "color": {"field": "kind", "type": "nominal"},
     "strokeDash": {"field": "kind", "type": "nominal", "scale": {"domain": ["daily", "monthly", "TLS fit", "1:1 ref"], "range": [[1, 0], [1, 0], [1, 0], [6, 4]]}, "legend": {"title": null}}}},
   {"data": {"values": [{"x": -0.95, "y": 2.80, "label": "(b) GOME-2B"}]}, "mark": {"type": "text", "align": "left", "baseline": "alphabetic", "fontSize": 17.7, "fontWeight": "bold", "color": "black"}, "encoding": {"text": {"field": "label"}}},
   {"data": {"values": [{"x": -0.95, "y": 2.265, "label": "R: 0.5637"}, {"x": -0.95, "y": 2.06, "label": "Y = 4.0035X - 1.8028"}, {"x": -0.95, "y": 1.855, "label": "N = 260"}]}, "mark": {"type": "text", "align": "left", "baseline": "alphabetic", "fontSize": 15.5, "color": "black"}, "encoding": {"text": {"field": "label"}}}
  ]
 },
 {
  "width": 390, "height": 347,
  "data": {"name": "c"},
  "encoding": {
   "x": {"field": "x", "type": "quantitative", "scale": {"domain": [-1, 3], "nice": false, "zero": false}, "axis": {"title": "Pandora Total SO₂ VCD (DU)", "values": [-1, -0.5, 0, 0.5, 1, 1.5, 2, 2.5, 3], "format": ".1f"}},
   "y": {"field": "y", "type": "quantitative", "scale": {"domain": [-1, 3], "nice": false, "zero": false}, "axis": {"title": "GOME-2C Total SO₂ VCD (DU)", "values": [-1, -0.5, 0, 0.5, 1, 1.5, 2, 2.5, 3], "format": ".1f"}}
  },
  "layer": [
   {"transform": [{"filter": "datum.kind === 'daily' || datum.kind === 'monthly'"}], "mark": {"type": "point", "filled": true, "opacity": 1, "strokeWidth": 0},
    "encoding": {
     "color": {"field": "kind", "type": "nominal", "scale": {"domain": ["daily", "monthly", "TLS fit", "1:1 ref"], "range": ["#0000ff", "#000000", "#000000", "#999999"]}, "legend": {"title": null, "orient": "bottom-right", "offset": 6, "padding": 0, "clipHeight": 18, "rowPadding": 0, "labelOffset": 10, "labelFontSize": 12.5, "symbolStrokeWidth": 1.5}},
     "shape": {"field": "kind", "type": "nominal", "scale": {"domain": ["daily", "monthly", "TLS fit", "1:1 ref"], "range": ["circle", "square", "stroke", "stroke"]}, "legend": {"title": null}},
     "size": {"field": "kind", "type": "nominal", "scale": {"type": "ordinal", "domain": ["daily", "monthly", "TLS fit", "1:1 ref"], "range": [30, 36, 676, 676]}, "legend": {"title": null}}}},
   {"transform": [{"filter": "datum.kind === 'TLS fit' || datum.kind === '1:1 ref'"}], "mark": {"type": "line", "strokeWidth": 1.8, "clip": true},
    "encoding": {
     "color": {"field": "kind", "type": "nominal"},
     "strokeDash": {"field": "kind", "type": "nominal", "scale": {"domain": ["daily", "monthly", "TLS fit", "1:1 ref"], "range": [[1, 0], [1, 0], [1, 0], [6, 4]]}, "legend": {"title": null}}}},
   {"data": {"values": [{"x": -0.95, "y": 2.80, "label": "(c) GOME-2C"}]}, "mark": {"type": "text", "align": "left", "baseline": "alphabetic", "fontSize": 17.7, "fontWeight": "bold", "color": "black"}, "encoding": {"text": {"field": "label"}}},
   {"data": {"values": [{"x": -0.95, "y": 2.265, "label": "R: 0.4317"}, {"x": -0.95, "y": 2.06, "label": "Y = 1.0088X - 0.2360"}, {"x": -0.95, "y": 1.855, "label": "N = 251"}]}, "mark": {"type": "text", "align": "left", "baseline": "alphabetic", "fontSize": 15.5, "color": "black"}, "encoding": {"text": {"field": "label"}}}
  ]
 },
 {
  "width": 390, "height": 347,
  "data": {"name": "d"},
  "encoding": {
   "x": {"field": "x", "type": "quantitative", "scale": {"domain": [-4, 4], "nice": false, "zero": false}, "axis": {"title": "ΔTotal SO₂ VCD (DU)", "values": [-4, -3, -2, -1, 0, 1, 2, 3, 4], "format": "d"}},
   "y": {"field": "y", "type": "quantitative", "scale": {"domain": [0, 25], "nice": false}, "axis": {"title": "Occurrence (%)", "values": [0, 5, 10, 15, 20, 25], "format": "d"}}
  },
  "layer": [
   {"data": {"values": [{"x": 0, "y": 0}, {"x": 0, "y": 25}]}, "mark": {"type": "line", "color": "#444444", "strokeWidth": 1}},
   {"mark": {"type": "line", "strokeWidth": 2.5, "clip": true},
    "encoding": {"color": {"field": "series", "type": "nominal", "scale": {"domain": ["G2A", "G2B", "G2C"], "range": ["#0000ff", "#ff0000", "#008000"]},
     "legend": {"title": null, "orient": "top-right", "direction": "horizontal", "offset": 7, "padding": 4, "strokeColor": "black", "fillColor": "white", "symbolType": "stroke", "symbolSize": 729, "symbolStrokeWidth": 3, "symbolOffset": 0, "labelFontSize": 13, "labelOffset": 13, "columnPadding": 9}}}},
   {"data": {"values": [{"x": -3.88, "y": 23.69, "label": "(d)"}]}, "mark": {"type": "text", "align": "left", "baseline": "alphabetic", "fontSize": 17.7, "fontWeight": "bold", "color": "black"}, "encoding": {"text": {"field": "label"}}},
   {"data": {"values": [{"x": -3.88, "y": 20.32, "sub": "G2A", "rest": ": -0.45 (-64.01%)±1.77 (250.14%)"}, {"x": -3.88, "y": 19.0, "sub": "G2B", "rest": ": -0.48 (-62.22%)±2.08 (271.61%)"}, {"x": -3.88, "y": 17.72, "sub": "G2C", "rest": ": -0.25 (-47.32%)±0.59 (110.88%)"}]},
    "layer": [
     {"mark": {"type": "text", "align": "left", "baseline": "alphabetic", "fontSize": 15.5, "color": "black"}, "encoding": {"text": {"value": "MB"}}},
     {"mark": {"type": "text", "align": "left", "baseline": "alphabetic", "fontSize": 11, "font": "DejaVu Serif", "fontStyle": "italic", "color": "black", "dx": 23, "dy": 3.5}, "encoding": {"text": {"field": "sub"}}},
     {"mark": {"type": "text", "align": "left", "baseline": "alphabetic", "fontSize": 15.5, "color": "black", "dx": 47.5}, "encoding": {"text": {"field": "rest"}}}
    ]}
  ]
 }
],
"columns": 2,
"spacing": {"row": 52, "column": 70},
"bounds": "flush",
"resolve": {"scale": {"color": "independent", "shape": "independent", "size": "independent", "strokeDash": "independent"}, "legend": {"color": "independent", "shape": "independent", "size": "independent", "strokeDash": "independent"}}
}
